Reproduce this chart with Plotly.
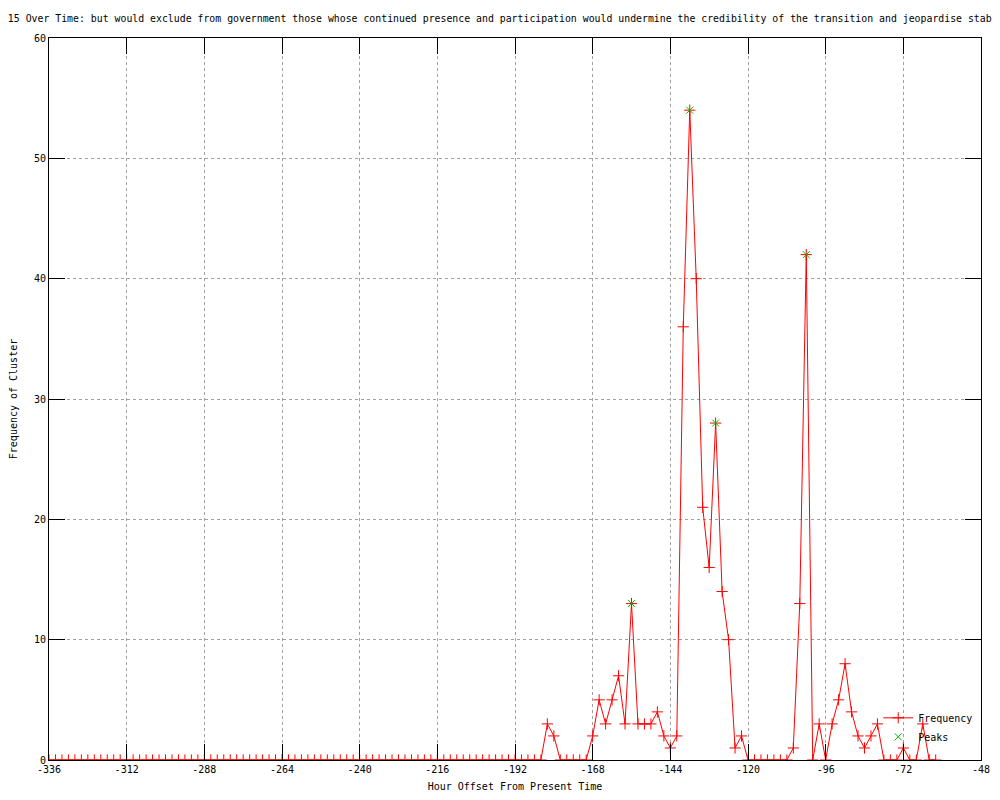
import plotly.graph_objects as go

hours = [-336, -334, -332, -330, -328, -326, -324, -322, -320, -318,
         -316, -314, -312, -310, -308, -306, -304, -302, -300, -298,
         -296, -294, -292, -290, -288, -286, -284, -282, -280, -278,
         -276, -274, -272, -270, -268, -266, -264, -262, -260, -258,
         -256, -254, -252, -250, -248, -246, -244, -242, -240, -238,
         -236, -234, -232, -230, -228, -226, -224, -222, -220, -218,
         -216, -214, -212, -210, -208, -206, -204, -202, -200, -198,
         -196, -194, -192, -190, -188, -186, -184, -182, -180, -178,
         -176, -174, -172, -170, -168, -166, -164, -162, -160, -158,
         -156, -154, -152, -150, -148, -146, -144, -142, -140, -138,
         -136, -134, -132, -130, -128, -126, -124, -122, -120, -118,
         -116, -114, -112, -110, -108, -106, -104, -102, -100, -98,
         -96, -94, -92, -90, -88, -86, -84, -82, -80, -78,
         -76, -74, -72, -70, -68, -66, -64, -62]

freq = [0, 0, 0, 0, 0, 0, 0, 0, 0, 0,
        0, 0, 0, 0, 0, 0, 0, 0, 0, 0,
        0, 0, 0, 0, 0, 0, 0, 0, 0, 0,
        0, 0, 0, 0, 0, 0, 0, 0, 0, 0,
        0, 0, 0, 0, 0, 0, 0, 0, 0, 0,
        0, 0, 0, 0, 0, 0, 0, 0, 0, 0,
        0, 0, 0, 0, 0, 0, 0, 0, 0, 0,
        0, 0, 0, 0, 0, 0, 0, 3, 2, 0,
        0, 0, 0, 0, 2, 5, 3, 5, 7, 3,
        13, 3, 3, 3, 4, 2, 1, 2, 36, 54,
        40, 21, 16, 28, 14, 10, 1, 2, 0, 0,
        0, 0, 0, 0, 0, 1, 13, 42, 0, 3,
        0, 3, 5, 8, 4, 2, 1, 2, 3, 0,
        0, 0, 1, 0, 0, 3, 0, 0]

peak_hours = [-156, -138, -130, -102]
peak_freq = [13, 54, 28, 42]

x_ticks = [-336, -312, -288, -264, -240, -216, -192, -168, -144, -120, -96, -72, -48]
y_ticks = [0, 10, 20, 30, 40, 50, 60]

title_text = ("- 15 Over Time: but would exclude from government those whose continued presence "
              "and participation would undermine the credibility of the transition and jeopardise stab")

FONT = "DejaVu Sans Mono"

fig = go.Figure()
fig.add_trace(go.Scatter(
    x=hours, y=freq, mode="lines+markers", name="Frequency",
    line=dict(color="#ff0000", width=1),
    marker=dict(symbol="cross-thin", size=8, line=dict(color="#ff0000", width=1), color="#ff0000"),
))
fig.add_trace(go.Scatter(
    x=peak_hours, y=peak_freq, mode="markers", name="Peaks",
    marker=dict(symbol="x-thin", size=7, line=dict(color="#00c000", width=1), color="#00c000"),
))

axis_common = dict(
    showline=True, linecolor="black", linewidth=1, mirror="ticks",
    ticks="inside", ticklen=16, tickcolor="black", tickwidth=1,
    showgrid=True, gridcolor="#a0a0a0", griddash="dot", gridwidth=1,
    zeroline=False, automargin=False,
    tickfont=dict(family=FONT, size=10, color="black"),
)

fig.update_xaxes(range=[-336, -48], tickvals=x_ticks, ticktext=[str(v) for v in x_ticks],
                 title=dict(text="Hour Offset From Present Time", font=dict(family=FONT, size=10, color="black"),
                            standoff=8),
                 **axis_common)
fig.update_yaxes(range=[0, 60], tickvals=y_ticks,
                 title=dict(text="Frequency of Cluster", font=dict(family=FONT, size=10, color="black"),
                            standoff=14),
                 **axis_common)

# page body has an 8px margin: figure is 992x792 so it sits at the same screen place
L, R, T, B = 41, 19, 30, 40
PW, PH = 992 - L - R, 792 - T - B

fig.add_annotation(text=title_text, xref="paper", yref="paper",
                   x=(-14 - L) / PW, y=(792 - B - 11) / PH, xanchor="left", yanchor="middle",
                   showarrow=False, font=dict(family=FONT, size=9.85, color="black"))

fig.update_layout(
    width=992, height=792,
    margin=dict(l=L, r=R, t=T, b=B, autoexpand=False),
    paper_bgcolor="white", plot_bgcolor="white",
    showlegend=True,
    legend=dict(x=0.997, y=0.012, xanchor="right", yanchor="bottom",
                bgcolor="rgba(0,0,0,0)", font=dict(family=FONT, size=10, color="black"),
                tracegroupgap=0, itemwidth=30),
    font=dict(family=FONT, size=10, color="black"),
)

fig.write_html("out.html")
